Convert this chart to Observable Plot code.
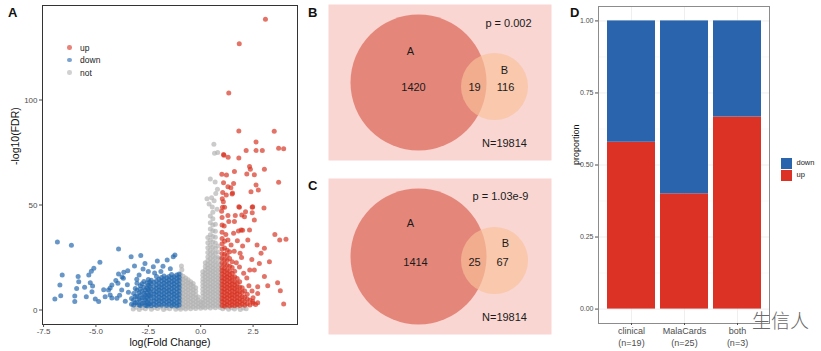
<!DOCTYPE html>
<html><head><meta charset="utf-8">
<script src="https://cdn.jsdelivr.net/npm/d3@7"></script>
<script src="https://cdn.jsdelivr.net/npm/@observablehq/plot@0.6"></script>
<style>
body{margin:0;background:#fff;}
#wrap{position:relative;width:821px;height:351px;background:#fff;font-family:"Liberation Sans",Arial,sans-serif;overflow:hidden;}
.pnl{position:absolute;}
.tag{position:absolute;font-weight:bold;font-size:13px;line-height:13px;color:#111;}
.lg{position:absolute;font-size:8.5px;line-height:10px;color:#222;white-space:nowrap;}
.sw{display:inline-block;vertical-align:middle;}
</style></head>
<body><div id="wrap"></div>
<script>
// ---------- Panel A: volcano data ----------
const upSparse = [[3.09,138.4],[1.84,126.8],[1.34,103.3],[1.82,85.2],[3.51,85.1],[2.64,80],[1.11,73.7],[1.31,72.7],[1.82,72.4],[2.17,76],[2.64,76],[2.94,76],[3.72,77],[3.96,76.8],[2.33,68.3],[2.37,67],[3.04,67],[2.2,64.8],[2.56,64.4],[2.64,59.5],[2.4,56.3],[2.75,57.1],[3.72,60.8],[1.01,64.6],[1.23,64.3],[1.57,60.3],[1.09,60.6],[1.22,54.8],[1.5,55.2],[1.04,48.9],[1.82,49.2],[2.14,46.8],[2.48,49.2],[3.02,48.6],[2.09,44.4],[1.61,42.1],[2.56,42.9],[1.93,38.1],[2.33,38.1],[1.57,36.5],[1.3,33.3],[3.54,36],[3.77,33.3],[4.07,33.7],[2.69,31],[3.04,29.4],[2.88,27],[2.25,33.3],[1.88,27],[2.44,24.1],[2.8,22.2],[3.28,23],[2.34,19],[2.56,19],[3.04,15.9],[3.2,11.6],[2.72,11.1],[3.67,13],[2.72,7.9],[3.8,9.2],[3.96,2.9],[2.72,3.5],[2.48,4],[1.09,74],[1.61,65.9],[1.3,58.7],[1.44,58.2],[1.52,55.7],[1.03,53],[1.08,51.5],[1.14,48.9],[1.85,48.9],[2.46,48.9],[1.65,45],[1.96,45.2],[2.46,46.3],[1.34,42.2],[1.8,37.6],[2.0,38],[1.7,22.5],[1.85,20.5],[2.05,17.5],[2.2,15.2],[1.95,25],[1.6,28],[2.3,11.5],[2.45,9],[1.45,31],[1.75,33],[2.0,30.5],[1.2,36],[1.12,40],[1.3,45],[1.05,56],[1.0,47]];
const upDenseCols = [
 [1.02,[2.2,3.9,5.5,7.2,8.8,10.5,12.1,13.8,15.4,17.1,18.7,20.4,22.5,24.6,26.8,29.1,31.5,34,37,40.5,44]],
 [1.14,[1.8,3.4,5.1,6.7,8.4,10,11.7,13.3,15,16.6,18.3,20,22,24.2,26.5,29.5,32.8]],
 [1.26,[2.5,4.1,5.8,7.4,9.1,10.7,12.4,14,15.7,17.3,19.1,21.3,23.6,26,28.4]],
 [1.38,[1.9,3.6,5.2,6.9,8.5,10.2,11.8,13.5,15.1,16.8,18.6,20.8,24.5,27.7]],
 [1.5,[2.4,4,5.7,7.3,9,10.6,12.3,13.9,15.6,17.5,20.2,23]],
 [1.62,[2,3.7,5.3,7,8.6,10.3,11.9,13.6,15.8,18.4]],
 [1.74,[2.6,4.3,5.9,7.6,9.2,10.9,12.8,15]],
 [1.86,[2.1,3.8,5.4,7.1,8.9,11,13.5]],
 [1.98,[2.8,4.5,6.3,8.4,10.6]],
 [2.1,[2.3,4.1,6.2,9]],
 [2.22,[3,5.2,7.5]],
 [2.35,[2.4,4.6]],
 [2.5,[3.2,5.8]],
 [2.62,[2.6]]
];
const downSparse = [[-6.84,32.4],[-6.17,30.8],[-3.92,29],[-4.81,22.7],[-6.61,16.7],[-6.72,11.9],[-6.96,5.2],[-6.68,6.8],[-6.01,6.7],[-6.01,4],[-5.82,13.5],[-5.54,10.8],[-5.27,13],[-5.19,8.7],[-5.46,6.3],[-5.03,5.2],[-4.4,9.5],[-4.56,6.3],[-4.24,11.9],[-4.0,5.6],[-3.77,9.5],[-3.69,15.1],[-3.48,18.7],[-3.32,25.4],[-2.86,26],[-3.16,21],[-2.66,22.2],[-2.26,20.6],[-2.07,23.3],[-1.31,25.4],[-1.23,26.2],[-1.6,23.8],[-2.94,16.7],[-2.5,18.3],[-1.9,18.3],[-3.92,17.1],[-4.32,7.1],[-4.87,4],[-5.85,15.9],[-5.34,16.7],[-5.22,18.4],[-5.92,10.2],[-5.16,11.4],[-5.1,19.9],[-4.63,9.6],[-4.32,10.5],[-4.24,5.7],[-3.87,7],[-4.05,14],[-3.95,12.7],[-3.75,15.7],[-3.67,18],[-3.5,12],[-3.45,8.5],[-3.6,4.2],[-1.45,19.6],[-1.8,20.8],[-2.2,17.6],[-2.75,19.5],[-3.05,14.6]];
const downDenseCols = [
 [-1.03,[2.4,4.1,5.7,7.4,9,10.7,12.3,14,15.6,17.2]],
 [-1.15,[1.9,3.5,5.2,6.8,8.5,10.1,11.8,13.4,15.1,16.7]],
 [-1.27,[2.6,4.2,5.9,7.5,9.2,10.8,12.5,14.1,15.8]],
 [-1.39,[2,3.7,5.3,7,8.6,10.3,11.9,13.6,15.2,16.9]],
 [-1.51,[2.7,4.4,6,7.7,9.3,11,12.6,14.3,15.9]],
 [-1.63,[2.2,3.8,5.5,7.1,8.8,10.4,12.1,13.7,15.4]],
 [-1.75,[2.9,4.5,6.2,7.8,9.5,11.1,12.8,14.4,16.2]],
 [-1.87,[2.3,4,5.6,7.3,8.9,10.6,12.2,13.9,15.5]],
 [-1.99,[2.8,4.4,6.1,7.7,9.4,11,12.7,14.6]],
 [-2.11,[2.1,3.8,5.4,7.1,8.7,10.4,12,13.8,16]],
 [-2.23,[2.6,4.3,5.9,7.6,9.2,11.1,13.2]],
 [-2.36,[2,3.9,5.7,7.8,10,12.4,14.2]],
 [-2.43,[3,6.8,8.9,11.2,13.3]],
 [-2.5,[2.9,5,7.2,9.6,11.8,14.5]],
 [-2.57,[2,4,6.1,8.3,10.6,12.9]],
 [-2.64,[2.3,4.6,7,9.5]],
 [-2.71,[3.4,5.9,8,10.8,13.6]],
 [-2.8,[3.1,5.8,8.9,12.5]],
 [-2.88,[2.2,4.5,7.1,10,11.6]],
 [-2.95,[2.5,5.2,8.1]],
 [-3.04,[3.6,6.2,9.4,12.8]],
 [-3.12,[3.4,6.6,10.2]],
 [-3.2,[2.4,4.8,7.9]],
 [-3.3,[2.8,5.5]]
];
const notSparse = [[0.63,78.9],[0.66,74.6],[0.81,75],[0.46,62.4],[0.69,61],[0.8,57.5],[0.72,55.5],[0.3,53],[0.52,53.5],[0.64,52],[0.4,50.5],[0.55,49],[0.78,48],[-0.92,21],[-0.9,19.2],
 [-3.22,0.5],[-3.08,1.3],[-2.93,0.3],[-2.79,1.1],[-2.64,0.6],[-2.5,1.5],[-2.35,0.4],[-2.21,1.2],[-2.06,0.7],[-1.92,1.4],[-1.77,0.3],[-1.63,1.0],[-1.48,0.6],[-1.34,1.5],[-1.19,0.4],[-1.05,1.1],
 [1.05,0.6],[1.19,1.3],[1.33,0.4],[1.47,1.1],[1.61,0.5],[1.75,1.4],[1.89,0.3],[2.03,1.0],[2.17,0.6]];
const notCols = [
 [-0.96,[0.4,2.1,3.8,5.4,7.1,8.7,10.4,12,13.7,15.3,17]],
 [-0.84,[1.2,2.9,4.6,6.2,7.9,9.5,11.2,12.8,14.5,16.1]],
 [-0.72,[0.5,2.2,3.8,5.5,7.1,8.8,10.4,12.1,13.7,15.2]],
 [-0.6,[1.3,3,4.6,6.3,7.9,9.6,11.2,12.9,14.4]],
 [-0.48,[0.6,2.3,3.9,5.6,7.2,8.9,10.5,12.1,13.4]],
 [-0.36,[1.4,3.1,4.7,6.4,8,9.7,11.3,12.6]],
 [-0.24,[0.7,2.4,4,5.7,7.3,8.9,10.6]],
 [-0.12,[1.5,3.1,4.8,6.2]],
 [0.0,[0.8,2.4,3.9]],
 [0.1,[1.6,3.3,4.9,6.6,8.2,9.9,11.5,13.2,14.8,16.5,18.2]],
 [0.22,[0.9,2.5,4.2,5.8,7.5,9.1,10.8,12.4,14.1,15.7,17.4,19,20.7,22.5]],
 [0.34,[1.7,3.4,5,6.7,8.3,10,11.6,13.3,14.9,16.6,18.2,19.9,21.6,23.4,25.3,27.4,29.6,32,34.5]],
 [0.46,[1,2.6,4.3,5.9,7.6,9.2,10.9,12.5,14.2,15.8,17.5,19.1,20.8,22.6,24.5,26.5,28.6,30.8,33.2,35.8,38.6,41.5,44.8]],
 [0.58,[1.8,3.5,5.1,6.8,8.4,10.1,11.7,13.4,15,16.7,18.3,20,21.8,23.7,25.7,27.8,30,32.4,35,37.7,40.5,43.5,46.5]],
 [0.7,[1.1,2.7,4.4,6,7.7,9.3,11,12.6,14.3,15.9,17.6,19.3,21.1,23,25,27.1,29.4,31.9,34.6,37.5,40.8]],
 [0.82,[1.9,3.6,5.2,6.9,8.5,10.2,11.8,13.5,15.1,16.8,18.6,20.5,22.6,25,27.6,30.5]],
 [0.93,[1.2,2.8,4.5,6.1,7.8,9.4,11.1,12.8,14.6,16.6,19,21.6,24.5]]
];
const volcanoGroups = ["up","down","not"];
const volcanoColors = ["#d7301f","#2166ac","#b3b3b3"];
const xTicksA = [-7.5,-5,-2.5,0,2.5];
const yTicksA = [0,50,100];

// ---------- Panels B, C: Venn counts ----------
const vennSets = ["A","B"];
const vennCountsB = [1420, 19, 116];
const vennCountsC = [1414, 25, 67];
const vennP = ["0.002", "1.03e-9"];
const vennN = [19814, 19814];

// ---------- Panel D: proportions ----------
const dCats = ["clinical","MalaCards","both"];
const dUp = [11, 10, 2];
const dDown = [8, 15, 1];
const dDirs = ["down","up"];
const dColors = ["#2a64ac","#dc3226"];
const yTicksD = [0, 0.25, 0.5, 0.75, 1];

const FONT = '"Liberation Sans", Arial, sans-serif';
const wrap = document.getElementById("wrap");
function place(node, left, top){ const d=document.createElement("div"); d.className="pnl"; d.style.left=left+"px"; d.style.top=top+"px"; d.appendChild(node); wrap.appendChild(d); return d; }
function html(cls, left, top, inner){ const d=document.createElement("div"); d.className=cls; d.style.left=left+"px"; d.style.top=top+"px"; d.innerHTML=inner; wrap.appendChild(d); return d; }

// ----- Panel A -----
const pts = [];
const pushCols = (cols,g)=>cols.forEach(([x,ys])=>ys.forEach(y=>pts.push({x,y,g})));
const pushPairs = (arr,g)=>arr.forEach(([x,y])=>pts.push({x,y,g}));
pushCols(notCols,"not"); pushPairs(notSparse,"not");
pushCols(downDenseCols,"down"); pushPairs(downSparse,"down");
pushCols(upDenseCols,"up"); pushPairs(upSparse,"up");

const plotA = Plot.plot({
  width:300, height:351, marginLeft:42, marginRight:3, marginTop:5, marginBottom:27,
  style:{fontFamily:FONT, fontSize:"8px", background:"transparent", overflow:"visible"},
  x:{domain:[-7.55,4.62]},
  y:{domain:[-6.9,145]},
  color:{domain:volcanoGroups, range:volcanoColors},
  marks:[
    Plot.dot(pts,{x:"x",y:"y",fill:"g",r:2.5,fillOpacity:0.68,stroke:null}),
    Plot.frame({stroke:"#333",strokeWidth:1}),
    Plot.axisX({ticks:xTicksA, tickFormat:d=>d.toFixed(1), tickSize:3, tickPadding:1, color:"#4d4d4d", fontSize:8, label:null}),
    Plot.axisY({ticks:yTicksA, tickFormat:d=>String(d), tickSize:3, tickPadding:2, color:"#4d4d4d", fontSize:8, label:null}),
    Plot.text(["log(Fold Change)"],{frameAnchor:"bottom", dy:21, fontSize:10.5, fill:"#111"}),
    Plot.text(["-log10(FDR)"],{frameAnchor:"left", dx:-27, rotate:-90, fontSize:10.5, fill:"#111"})
  ]
});
place(plotA,0,0);
html("tag",8,6,"A");
const legA = volcanoGroups.map((g,i)=>`<div style="height:12.3px"><span class="sw" style="width:4.6px;height:4.6px;border-radius:50%;background:${volcanoColors[i]};opacity:0.6;margin-right:8.5px"></span><span style="vertical-align:middle">${g}</span></div>`).join("");
html("lg",67,42,legA);

// ----- Panels B, C -----
const vennLayout = {W:223, H:156, A:{x:90,y:78,r:68}, B:{x:166,y:82,r:33.5}};
function venn(counts, p, N, textPos){
  const L = vennLayout;
  const labels = [
    {x:textPos.A[0], y:textPos.A[1], t:vennSets[0]},
    {x:textPos.B[0], y:textPos.B[1], t:vennSets[1]},
    {x:textPos.c[0][0], y:textPos.c[0][1], t:String(counts[0])},
    {x:textPos.c[1][0], y:textPos.c[1][1], t:String(counts[1])},
    {x:textPos.c[2][0], y:textPos.c[2][1], t:String(counts[2])},
    {x:textPos.p[0], y:textPos.p[1], t:`p = ${p}`},
    {x:textPos.N[0], y:textPos.N[1], t:`N=${N}`}
  ];
  return Plot.plot({
    width:L.W, height:L.H, margin:0,
    style:{fontFamily:FONT, background:"transparent", overflow:"visible"},
    x:{domain:[0,L.W], range:[0,L.W], axis:null},
    y:{domain:[0,L.H], range:[0,L.H], axis:null},
    marks:[
      Plot.frame({fill:"#f9d6d2", stroke:null}),
      Plot.dot([L.A],{x:"x",y:"y",r:L.A.r,fill:"#e4877a",stroke:null}),
      Plot.dot([L.B],{x:"x",y:"y",r:L.B.r,fill:"#f9c09a",fillOpacity:0.65,stroke:null}),
      Plot.text(labels,{x:"x",y:"y",text:"t",fontSize:11,fill:"#1a1a1a"})
    ]
  });
}
place(venn(vennCountsB, vennP[0], vennN[0], {A:[82,47],B:[176,66],c:[[85,83],[146,83],[177,83]],p:[180,19],N:[176,139]}),328,4);
place(venn(vennCountsC, vennP[1], vennN[1], {A:[82,45],B:[177,65],c:[[87,84],[146,84],[174,84]],p:[172,18],N:[176,139]}),328,178);
html("tag",308,6,"B");
html("tag",308,179,"C");

// ----- Panel D -----
const dRows = dCats.flatMap((c,i)=>[{cat:c,dir:"up",n:dUp[i]},{cat:c,dir:"down",n:dDown[i]}]);
const plotD = Plot.plot({
  width:215, height:351, marginLeft:38, marginRight:6, marginTop:6, marginBottom:28,
  style:{fontFamily:FONT, fontSize:"7px", background:"transparent", overflow:"visible"},
  x:{domain:dCats, paddingInner:0.1, paddingOuter:0.15},
  y:{domain:[-0.05,1.05]},
  color:{domain:dDirs, range:dColors},
  marks:[
    Plot.gridY([0.125,0.375,0.625,0.875],{stroke:"#f3f3f3",strokeOpacity:1,strokeWidth:0.5}),
    Plot.gridY(yTicksD,{stroke:"#ebebeb",strokeOpacity:1,strokeWidth:0.8}),
    Plot.gridX(dCats,{stroke:"#ebebeb",strokeOpacity:1,strokeWidth:0.8}),
    Plot.barY(dRows,{x:"cat",y:"n",fill:"dir",offset:"normalize",order:["up","down"]}),
    Plot.frame({stroke:"#8c8c8c",strokeWidth:1}),
    Plot.axisY({ticks:yTicksD, tickFormat:d=>d.toFixed(2), tickSize:3, tickPadding:2, color:"#4d4d4d", fontSize:7, label:null}),
    Plot.axisX({tickFormat:c=>{const i=dCats.indexOf(c); return `${c}\n(n=${dUp[i]+dDown[i]})`;}, tickSize:2, tickPadding:0, color:"#4d4d4d", fontSize:9, lineHeight:1.3, label:null}),
    Plot.text(["proportion"],{frameAnchor:"left", dx:-22.5, rotate:-90, fontSize:9, fill:"#111"})
  ]
});
place(plotD,560,0);
html("tag",570,6,"D");
const legD = dDirs.map((g,i)=>`<div style="height:12px"><span class="sw" style="width:10.5px;height:10.5px;background:${dColors[i]};margin-right:5px"></span><span style="vertical-align:middle">${g}</span></div>`).join("");
const lgd = html("lg",781,158,legD); lgd.style.fontSize="7.5px";
const wm = html("lg",752,309,"生信人"); wm.style.fontFamily='"Noto Sans CJK SC",sans-serif'; wm.style.fontSize="19px"; wm.style.lineHeight="22px"; wm.style.color="#6a6a6a"; wm.style.fontWeight="300";
</script></body></html>
